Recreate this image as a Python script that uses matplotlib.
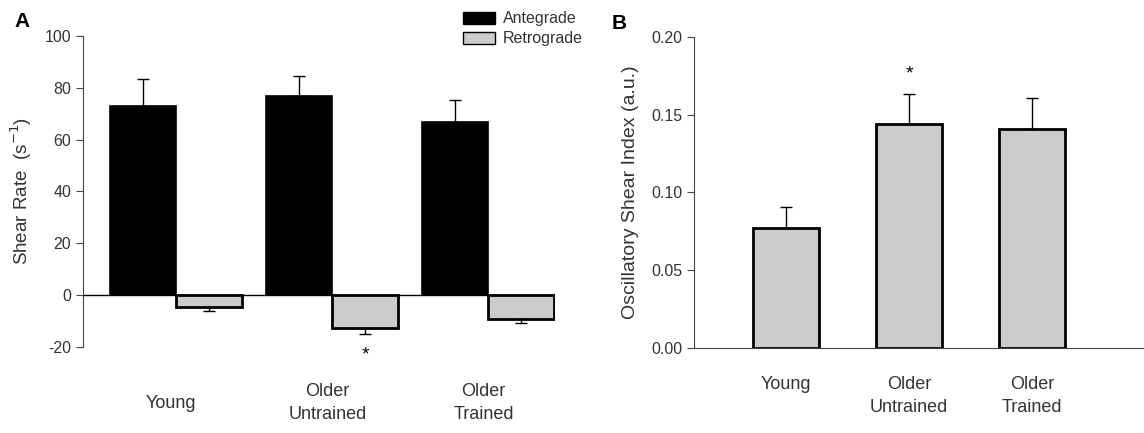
import numpy as np
import matplotlib
matplotlib.use('Agg')
import matplotlib.pyplot as plt
from matplotlib.patches import Patch

plt.rcParams['font.family'] = ['Liberation Sans', 'DejaVu Sans']
plt.rcParams['axes.unicode_minus'] = False

groups = ['Young', 'Older\nUntrained', 'Older\nTrained']

# panel A: shear rate (s^-1)
antegrade = [73.0, 76.7, 66.7]
antegrade_err = [10.5, 7.8, 8.6]
retrograde = [-4.8, -12.6, -9.1]
retrograde_err = [1.3, 2.6, 1.6]

# panel B: oscillatory shear index
osi = [0.077, 0.1437, 0.1405]
osi_err = [0.0135, 0.0197, 0.0199]

txt = '#333333'
grey = '#cccccc'
ekw = dict(ecolor='black', elinewidth=1, capsize=4.5, capthick=1)

fig = plt.figure(figsize=(11.44, 4.33), dpi=100)

# ---------------- panel A ----------------
axA = fig.add_axes([0.0726, 0.199, 0.4125, 0.718])
x = np.arange(len(groups))
w = 0.423
axA.bar(x - w/2, antegrade, w, color='black', edgecolor='black', linewidth=1.2,
        yerr=[np.zeros(3), antegrade_err], error_kw=ekw)
axA.bar(x + w/2, retrograde, w, color=grey, edgecolor='black', linewidth=2,
        yerr=[retrograde_err, np.zeros(3)], error_kw=ekw)
axA.set_xlim(-0.596, 2 + w + 0.005)
axA.set_ylim(-20, 100)
axA.plot([-0.596, 2 + w], [0, 0], color='black', lw=1)
for s in ['top', 'right', 'bottom']:
    axA.spines[s].set_visible(False)
axA.spines['left'].set_color('#444444')
axA.set_yticks([-20, 0, 20, 40, 60, 80, 100])
axA.tick_params(axis='y', direction='out', length=5, colors='#444444', labelcolor=txt, labelsize=11.5)
axA.set_xticks([])
for i, g in enumerate(groups):
    axA.text(x[i] - 0.03, -41.8, g, ha='center', va='center', fontsize=13, color=txt, linespacing=1.45)
axA.text(x[1] + w/2, retrograde[1] - retrograde_err[1] - 4.5, '*', ha='center', va='top', fontsize=14, color='black')
axA.set_ylabel('Shear Rate  (s$^{-1}$)', fontsize=13.5, color=txt, labelpad=8)
leg = axA.legend(handles=[Patch(facecolor='black', edgecolor='black', label='Antegrade'),
                          Patch(facecolor=grey, edgecolor='black', label='Retrograde')],
                 loc='upper right', bbox_to_anchor=(1.09, 1.125), frameon=False, fontsize=11.5,
                 handlelength=2.0, handleheight=0.75, labelspacing=0.3, handletextpad=0.5)
for t in leg.get_texts():
    t.set_color(txt)
fig.text(0.013, 0.95, 'A', fontsize=15, fontweight='bold', va='center')

# ---------------- panel B ----------------
axB = fig.add_axes([0.6066, 0.196, 0.3934, 0.719])
wb = 0.54
axB.bar(x, osi, wb, color=grey, edgecolor='black', linewidth=2,
        yerr=[np.zeros(3), osi_err], error_kw=ekw)
axB.set_xlim(-0.75, 2.91)
axB.set_ylim(0, 0.20)
for s in ['top', 'right']:
    axB.spines[s].set_visible(False)
axB.spines['left'].set_color('#444444')
axB.spines['bottom'].set_color('#444444')
axB.set_yticks([0, 0.05, 0.10, 0.15, 0.20])
axB.set_yticklabels(['0.00', '0.05', '0.10', '0.15', '0.20'])
axB.tick_params(axis='y', direction='out', length=5, colors='#444444', labelcolor=txt, labelsize=11.5)
axB.set_xticks([])
for i, g in enumerate(groups):
    axB.text(x[i], -0.018, g, ha='center', va='top', fontsize=13, color=txt, linespacing=1.45)
axB.text(x[1], osi[1] + osi_err[1] + 0.007, '*', ha='center', va='bottom', fontsize=14, color='black')
axB.set_ylabel('Oscillatory Shear Index (a.u.)', fontsize=14, color=txt, labelpad=9)
fig.text(0.535, 0.945, 'B', fontsize=15, fontweight='bold', va='center')

fig.savefig('out.png', dpi=100)
